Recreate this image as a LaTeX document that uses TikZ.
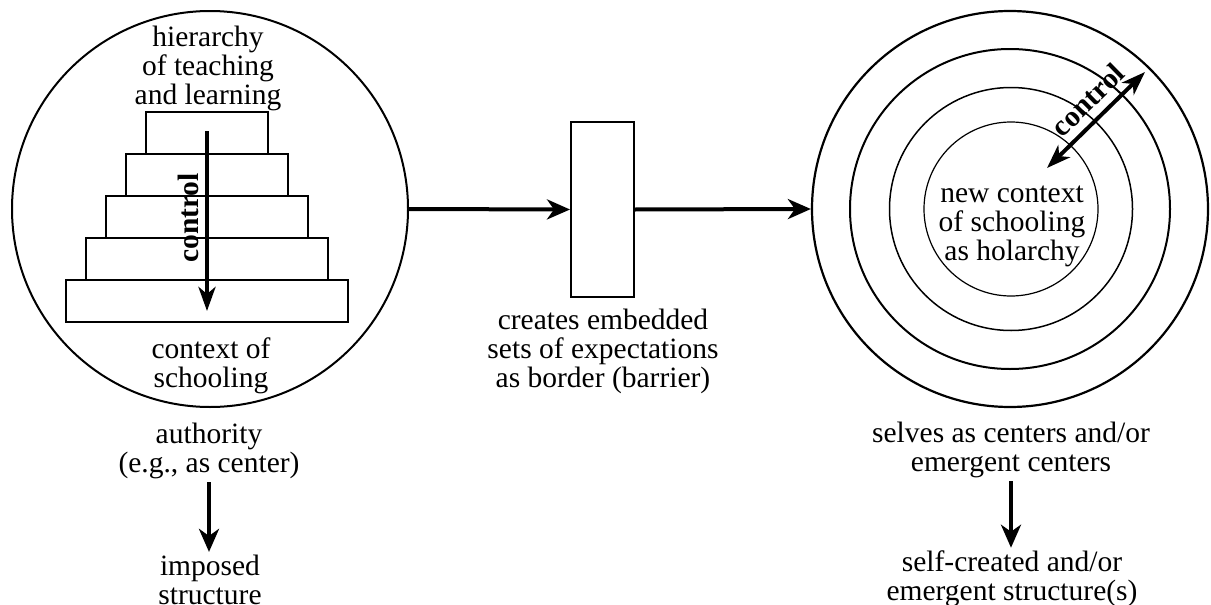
\documentclass[tikz,border=0pt]{standalone}
\usepackage{fontspec}
\setmainfont{Liberation Serif}
\usetikzlibrary{arrows.meta,positioning}

\begin{document}
\begin{tikzpicture}[x=1pt,y=-1pt,
    lbl/.style={align=center,inner sep=0pt,font=\fontsize{29.5}{29}\selectfont},
    ctltext/.style={lbl,font=\fontsize{29.5}{29}\selectfont\bfseries},
    tier/.style={draw,line width=2pt,minimum height=42pt,inner sep=0pt,anchor=north},
    ring/.style={draw,circle,inner sep=0pt},
    flow/.style={line width=4pt,-{Stealth[length=23pt,width=20pt,inset=7pt]}},
    ctl/.style={line width=4pt,{Stealth[length=24pt,width=17pt,inset=7pt]}-{Stealth[length=24pt,width=17pt,inset=7pt]}},
    down/.style={line width=4.5pt,-{Stealth[length=24pt,width=17pt,inset=7pt]}}]
\useasboundingbox (0,0) rectangle (1211,605);

% hierarchy
\node[ring,line width=2pt,minimum size=396pt] (ctx) at (210,209) {};
\node[lbl] (hier) at (208,68) {hierarchy\\of teaching\\and learning};
\foreach \i in {1,...,5}
  \node[tier,minimum width={82pt+40pt*\i}] (h\i) at (207,{69+42*\i}) {};
\coordinate (ctltop) at (207,131);
\coordinate (ctlbot) at (207,311);
\draw[down] (ctltop) -- (ctlbot);
\node[ctltext,rotate=90] (ctlleft) at (188,218) {control};
\node[lbl] (ctxlow) at (211,366) {context of\\schooling};
\node[lbl,inner sep=3pt] (auth) at (209,451) {authority\\(e.g., as center)};
\node[lbl,inner sep=3pt] (imp) at (210,580) {imposed\\structure};
\draw[flow] (auth.south) -- (auth.south |- imp.north);

% border
\node[draw,line width=2pt,minimum width=63pt,minimum height=175pt,inner sep=0pt] (bord) at (602.5,209.5) {};
\node[lbl] (expect) at (603,351) {creates embedded\\sets of expectations\\as border (barrier)};

% holarchy
\node[ring,line width=2.2pt,minimum size=396pt] (ring1) at (1010,209) {};
\node[ring,line width=2pt,minimum size=320pt] (ring2) at (1010,209) {};
\node[ring,line width=1.5pt,minimum size=243pt] (ring3) at (1011,209) {};
\node[ring,line width=1.2pt,minimum size=174pt] (ring4) at (1011,209) {};
\node[lbl] (holo) at (1012,226) {new context\\of schooling\\as holarchy};
\coordinate (cin) at (1047,168);
\coordinate (cout) at (1145,72);
\draw[ctl] (cin) -- (cout) node[ctltext,sloped,above=8pt,pos=0.56] (ctlright) {control};
\node[lbl,inner sep=3pt] (selves) at (1011,450) {selves as centers and/or\\emergent centers};
\node[lbl,inner sep=3pt] (made) at (1012,579) {self-created and/or\\emergent structure(s)};
\draw[flow] (selves.south) -- (selves.south |- made.north);

\draw[flow] (ctx.east) -- (bord.west);
\draw[flow] (bord.east) -- (ring1.west);
\end{tikzpicture}
\end{document}
